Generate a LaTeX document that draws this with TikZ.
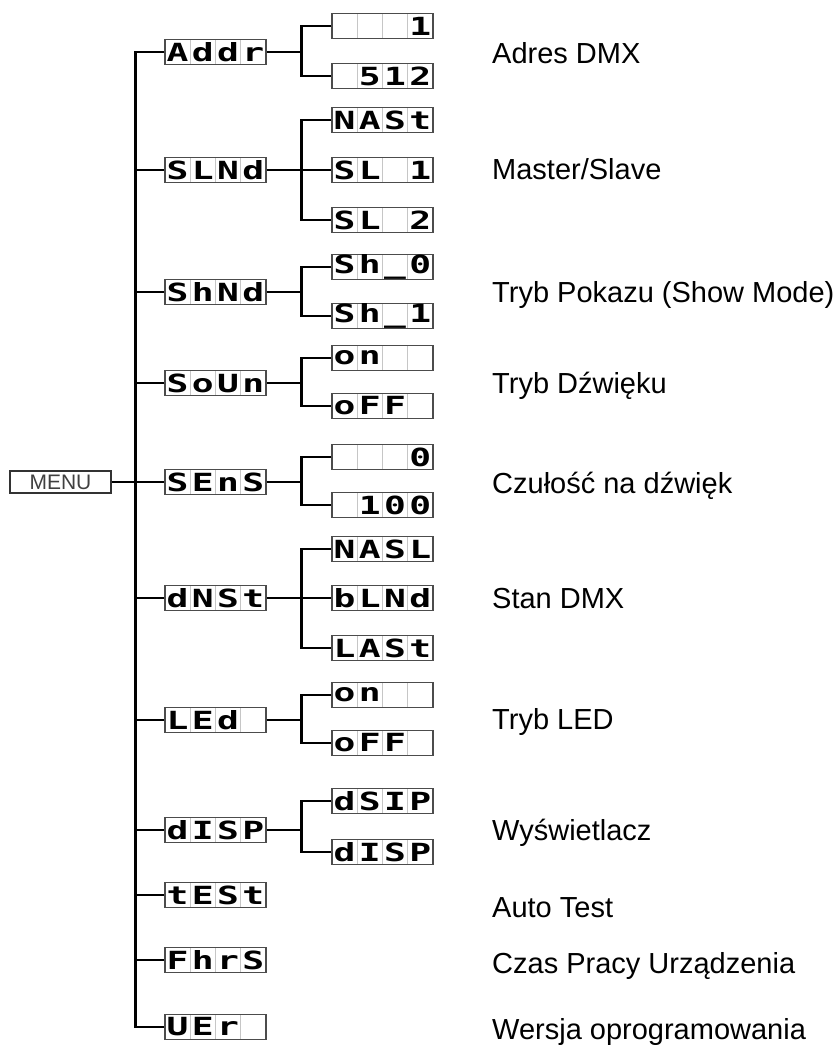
\documentclass[tikz,border=0pt]{standalone}
\usepackage{fontspec}
\setmainfont{Liberation Sans}
\newfontfamily\segfont{DejaVu Sans Mono}
\usepackage{graphicx}
\usetikzlibrary{calc}
\newcommand{\segcell}[1]{\makebox[25.25pt]{\scalebox{1.45}[1]{#1}}}
\newcommand{\cells}[4]{\segcell{#1}\segcell{#2}\segcell{#3}\segcell{#4}}

\begin{document}
\begin{tikzpicture}[
  x=1pt,
  y=-1pt,
  seg/.style={
    draw=black!70,
    line width=1.2pt,
    fill=white,
    minimum width=101pt,
    minimum height=25pt,
    inner sep=0pt,
    font=\segfont\bfseries\fontsize{25}{25}\selectfont,
    path picture={
      \foreach \k in {1,2,3}
        \draw[gray!45, line width=0.8pt]
          ($(path picture bounding box.north west)!\k/4!(path picture bounding box.north east)$) --
          ($(path picture bounding box.south west)!\k/4!(path picture bounding box.south east)$);
    }
  },
  menubox/.style={
    draw=black!80,
    line width=1.2pt,
    minimum width=101pt,
    minimum height=22pt,
    inner sep=0pt,
    text=black!75,
    font=\fontsize{21}{21}\selectfont
  },
  lbl/.style={anchor=base west, inner sep=0pt, font=\fontsize{29}{34}\selectfont},
  wire/.style={line width=2.3pt},
  thinwire/.style={line width=1.3pt}
]
\useasboundingbox (0,0) rectangle (840,1045);

\node[menubox] (menu) at (60.5,482) {MENU};

% first level
\node[seg] (addr) at (215.5,52) {\cells Addr};
\node[seg] (slmd) at (215.5,170) {\cells SLNd};
\node[seg] (shmd) at (215.5,292) {\cells ShNd};
\node[seg] (soun) at (215.5,383) {\cells SoUn};
\node[seg] (sens) at (215.5,482) {\cells SEnS};
\node[seg] (dmst) at (215.5,598) {\cells dNSt};
\node[seg] (led) at (215.5,720) {\cells LEd{}};
\node[seg] (disp) at (215.5,830) {\cells dISP};
\node[seg] (test) at (215.5,895) {\cells tESt};
\node[seg] (fhrs) at (215.5,960) {\cells FhrS};
\node[seg] (uer) at (215.5,1027) {\cells UEr{}};

% second level
\node[seg] (addr1) at (382.5,26) {\cells{}{}{}1};
\node[seg] (addr2) at (382.5,76) {\cells{}512};
\node[seg] (slmd1) at (382.5,120) {\cells NASt};
\node[seg] (slmd2) at (382.5,170) {\cells SL{}1};
\node[seg] (slmd3) at (382.5,220) {\cells SL{}2};
\node[seg] (shmd1) at (382.5,267) {\cells Sh\_0};
\node[seg] (shmd2) at (382.5,316) {\cells Sh\_1};
\node[seg] (soun1) at (382.5,358) {\cells on{}{}};
\node[seg] (soun2) at (382.5,406) {\cells oFF{}};
\node[seg] (sens1) at (382.5,457) {\cells{}{}{}0};
\node[seg] (sens2) at (382.5,505) {\cells{}100};
\node[seg] (dmst1) at (382.5,549) {\cells NASL};
\node[seg] (dmst2) at (382.5,598) {\cells bLNd};
\node[seg] (dmst3) at (382.5,648) {\cells LASt};
\node[seg] (led1) at (382.5,695) {\cells on{}{}};
\node[seg] (led2) at (382.5,743) {\cells oFF{}};
\node[seg] (disp1) at (382.5,801) {\cells dSIP};
\node[seg] (disp2) at (382.5,852) {\cells dISP};

% descriptions
\node[lbl] (addrtxt) at (492,63) {Adres DMX};
\node[lbl] (slmdtxt) at (492,179) {Master/Slave};
\node[lbl] (shmdtxt) at (492,302) {Tryb Pokazu (Show Mode)};
\node[lbl] (sountxt) at (492,393) {Tryb Dźwięku};
\node[lbl] (senstxt) at (492,493) {Czułość na dźwięk};
\node[lbl] (dmsttxt) at (492,608) {Stan DMX};
\node[lbl] (ledtxt) at (492,729) {Tryb LED};
\node[lbl] (disptxt) at (492,840) {Wyświetlacz};
\node[lbl] (testtxt) at (492,917) {Auto Test};
\node[lbl] (fhrstxt) at (492,973) {Czas Pracy Urządzenia};
\node[lbl] (uertxt) at (492,1039) {Wersja oprogramowania};

% trunk
\draw[wire] (addr.west) -- ++(-29,0) |- (uer.west);
\draw[wire] (slmd.west) -- ++(-29,0);
\draw[wire] (shmd.west) -- ++(-29,0);
\draw[wire] (soun.west) -- ++(-29,0);
\draw[wire] (dmst.west) -- ++(-29,0);
\draw[wire] (led.west) -- ++(-29,0);
\draw[wire] (disp.west) -- ++(-29,0);
\draw[wire] (test.west) -- ++(-29,0);
\draw[wire] (fhrs.west) -- ++(-29,0);
\draw[thinwire] (menu.east) -- (sens.west);

% forks
\draw[wire] (addr.east) -- ++(36,0);
\draw[wire] (addr1.west) -- ++(-30,0) |- (addr2.west);
\draw[wire] (slmd.east) -- (slmd2.west);
\draw[wire] (slmd1.west) -- ++(-30,0) |- (slmd3.west);
\draw[wire] (shmd.east) -- ++(36,0);
\draw[wire] (shmd1.west) -- ++(-30,0) |- (shmd2.west);
\draw[wire] (soun.east) -- ++(36,0);
\draw[wire] (soun1.west) -- ++(-30,0) |- (soun2.west);
\draw[wire] (sens.east) -- ++(36,0);
\draw[wire] (sens1.west) -- ++(-30,0) |- (sens2.west);
\draw[wire] (dmst.east) -- (dmst2.west);
\draw[wire] (dmst1.west) -- ++(-30,0) |- (dmst3.west);
\draw[wire] (led.east) -- ++(36,0);
\draw[wire] (led1.west) -- ++(-30,0) |- (led2.west);
\draw[wire] (disp.east) -- ++(36,0);
\draw[wire] (disp1.west) -- ++(-30,0) |- (disp2.west);

\end{tikzpicture}
\end{document}
